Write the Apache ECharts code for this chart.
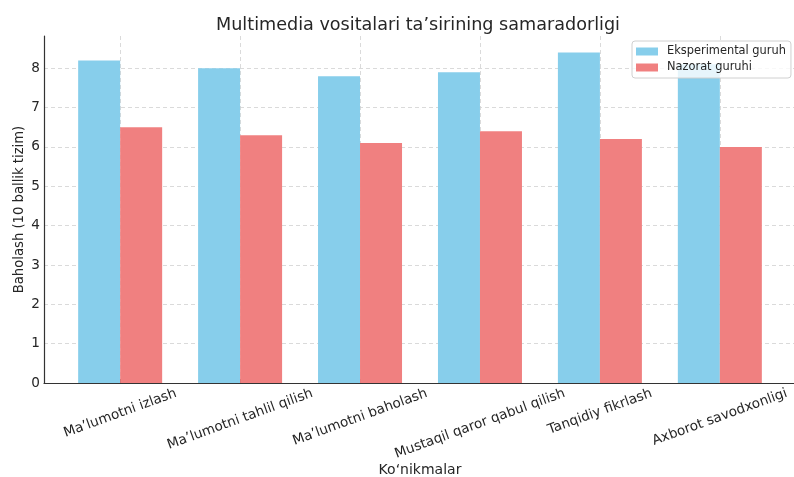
<!DOCTYPE html>
<html><head><meta charset="utf-8">
<script src="https://cdn.jsdelivr.net/npm/echarts@6/dist/echarts.min.js"></script>
<style>html,body{margin:0;padding:0;background:#fff}#c{width:794px;height:477px}</style>
</head><body><div id="c"></div>
<script>
const categories = ["Ma’lumotni izlash", "Ma’lumotni tahlil qilish", "Ma’lumotni baholash", "Mustaqil qaror qabul qilish", "Tanqidiy fikrlash", "Axborot savodxonligi"];
const experimental = [8.2, 8.0, 7.8, 7.9, 8.4, 8.1];
const control = [6.5, 6.3, 6.1, 6.4, 6.2, 6.0];
const seriesNames = ["Eksperimental guruh", "Nazorat guruhi"];
const yTicks = [0, 1, 2, 3, 4, 5, 6, 7, 8];

const FONT = "DejaVu Sans";
const LABEL_SIZE = 13.6;
const ROT = 20 * Math.PI / 180;
const ctx = document.createElement('canvas').getContext('2d');
ctx.font = LABEL_SIZE + "px '" + FONT + "'";
const rich = {};
categories.forEach((c, i) => {
  const w = ctx.measureText(c).width;
  const d = w * Math.sin(ROT) / 2;
  rich['c' + i] = {
    fontFamily: FONT, fontSize: LABEL_SIZE, color: '#262626',
    padding: [2 * d * Math.cos(ROT), 2 * d * Math.sin(ROT), 0, 0]
  };
});

const chart = echarts.init(document.getElementById('c'), null, {renderer: 'canvas'});
chart.setOption({
  animation: false,
  backgroundColor: '#fff',
  textStyle: {fontFamily: FONT},
  title: {
    text: 'Multimedia vositalari ta’sirining samaradorligi',
    left: 413, top: 11, textAlign: 'center',
    textStyle: {fontFamily: FONT, fontSize: 17.6, fontWeight: 'normal', color: '#262626'}
  },
  legend: {
    orient: 'vertical', left: 632, top: 41,
    padding: [5, 5, 5, 4], itemGap: 5,
    itemWidth: 22, itemHeight: 8, icon: 'rect',
    borderColor: '#d0d0d0', borderWidth: 1, borderRadius: 3,
    backgroundColor: 'rgba(255,255,255,0.8)',
    textStyle: {fontFamily: FONT, fontSize: 11.4, color: '#262626', padding: [0, 0, 0, 4]},
    data: seriesNames
  },
  grid: {left: 44, top: 36, width: 752, height: 347, containLabel: false, outerBoundsMode: 'none'},
  xAxis: {
    type: 'value', min: -0.635, max: 5.635,
    name: 'Ko‘nikmalar', nameLocation: 'middle', nameGap: 80, nameMoveOverlap: false,
    nameTextStyle: {fontFamily: FONT, fontSize: 14, color: '#262626'},
    axisLine: {show: true, onZero: false, lineStyle: {color: '#333', width: 1.2}},
    axisTick: {show: true, inside: true, length: 4, lineStyle: {color: '#333'}},
    splitLine: {show: true, showMinLine: false, showMaxLine: false, lineStyle: {color: '#d0d0d0', type: [4, 3], width: 0.8}},
    axisLabel: {
      rotate: 20, align: 'center', verticalAlign: 'middle', margin: 10,
      showMinLabel: false, showMaxLabel: false,
      formatter: v => {
        const i = Math.round(v);
        if (Math.abs(v - i) > 1e-6 || i < 0 || i >= categories.length) return '';
        return '{c' + i + '|' + categories[i] + '}';
      },
      rich: rich
    }
  },
  yAxis: {
    type: 'value', min: 0, max: 8.82, interval: 1,
    name: 'Baholash (10 ballik tizim)', nameLocation: 'middle', nameGap: 18, nameMoveOverlap: false,
    nameTextStyle: {fontFamily: FONT, fontSize: 13.2, color: '#262626'},
    axisLine: {show: true, onZero: false, lineStyle: {color: '#333', width: 1.2}},
    axisTick: {show: false},
    splitLine: {show: true, showMinLine: false, showMaxLine: false, lineStyle: {color: '#d0d0d0', type: [4, 3], width: 0.8}},
    axisLabel: {
      fontFamily: FONT, fontSize: 13.6, color: '#262626', margin: 4,
      showMaxLabel: false,
      formatter: v => (yTicks.indexOf(v) >= 0 ? String(v) : '')
    }
  },
  series: [
    {
      name: seriesNames[0], type: 'bar', barWidth: 42, barGap: '0%',
      itemStyle: {color: '#87CEEB'},
      data: experimental.map((v, i) => [i, v])
    },
    {
      name: seriesNames[1], type: 'bar', barWidth: 42, barGap: '0%',
      itemStyle: {color: '#F08080'},
      data: control.map((v, i) => [i, v])
    }
  ]
});
</script></body></html>
